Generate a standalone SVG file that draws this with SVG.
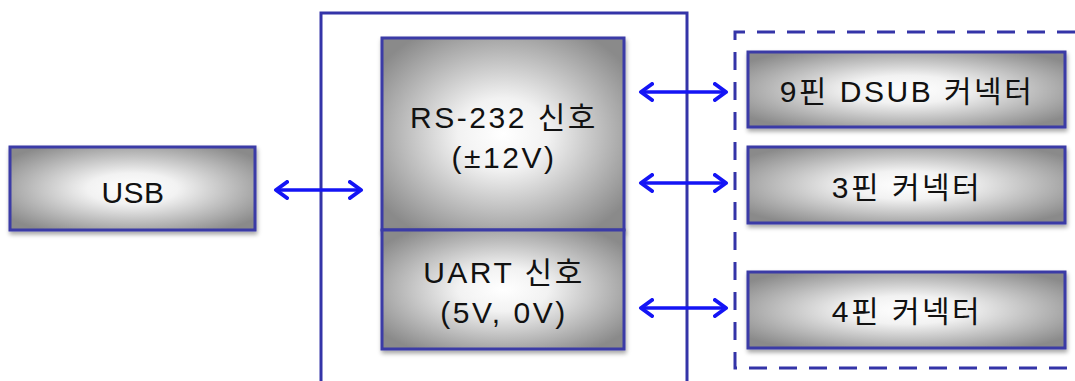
<svg xmlns="http://www.w3.org/2000/svg" width="1075" height="381" viewBox="0 0 1075 381">
  <style>
    .box { stroke: #3a3aa6; stroke-width: 3; fill: url(#shine); filter: url(#shadow); }
    .label { font-family: "Liberation Sans", "Noto Sans CJK KR", sans-serif; font-size: 30px; fill: #111; text-anchor: middle; letter-spacing: 2.5px; }
    .tight { letter-spacing: 0.5px; }
    .frame { fill: none; stroke: #3434a8; stroke-width: 3; }
    .link { stroke: #1414f5; stroke-width: 3.5; fill: none; marker-start: url(#head); marker-end: url(#head); }
  </style>
  <defs>
    <radialGradient id="shine" cx="0.5" cy="0.5" r="0.62">
      <stop offset="0" stop-color="#ffffff"/>
      <stop offset="0.3" stop-color="#f2f2f2"/>
      <stop offset="1" stop-color="#8a8a8a"/>
    </radialGradient>
    <filter id="shadow" x="-5%" y="-10%" width="110%" height="125%">
      <feDropShadow dx="1" dy="3" stdDeviation="2" flood-color="#000" flood-opacity="0.35"/>
    </filter>
    <marker id="head" viewBox="0 0 16 20" refX="13" refY="10" markerWidth="16" markerHeight="20" markerUnits="userSpaceOnUse" orient="auto-start-reverse">
      <path d="M2 2 L13 10 L2 18" fill="none" stroke="#1414f5" stroke-width="4" stroke-linecap="round" stroke-linejoin="round"/>
    </marker>
  </defs>

  <!-- converter enclosure and connector group -->
  <path class="frame" d="M321 381 V13 H687 V381"/>
  <path class="frame" d="M1075 32 H735 V368 H1075" stroke-dasharray="18 12"/>

  <g id="usb">
    <rect class="box" x="10" y="147" width="245" height="83"/>
    <text class="label tight" x="133" y="203">USB</text>
  </g>

  <g id="rs232">
    <rect class="box" x="382" y="38" width="242" height="192"/>
    <text class="label" x="504" y="128">RS-232 신호</text>
    <text class="label" x="504" y="168">(±12V)</text>
  </g>

  <g id="uart">
    <rect class="box" x="382" y="230" width="242" height="119"/>
    <text class="label" x="504" y="283">UART 신호</text>
    <text class="label" x="504" y="323">(5V, 0V)</text>
  </g>

  <g id="dsub9">
    <rect class="box" x="748" y="52" width="317" height="75"/>
    <text class="label" x="907" y="102">9핀 DSUB 커넥터</text>
  </g>

  <g id="pin3">
    <rect class="box" x="748" y="147" width="317" height="76"/>
    <text class="label" x="907" y="198">3핀 커넥터</text>
  </g>

  <g id="pin4">
    <rect class="box" x="748" y="272" width="317" height="76"/>
    <text class="label" x="907" y="322">4핀 커넥터</text>
  </g>

  <g id="connectors">
    <line class="link" x1="276" y1="190" x2="361" y2="190"/>
    <line class="link" x1="641" y1="92" x2="726" y2="92"/>
    <line class="link" x1="641" y1="183" x2="726" y2="183"/>
    <line class="link" x1="641" y1="308" x2="726" y2="308"/>
  </g>
</svg>
